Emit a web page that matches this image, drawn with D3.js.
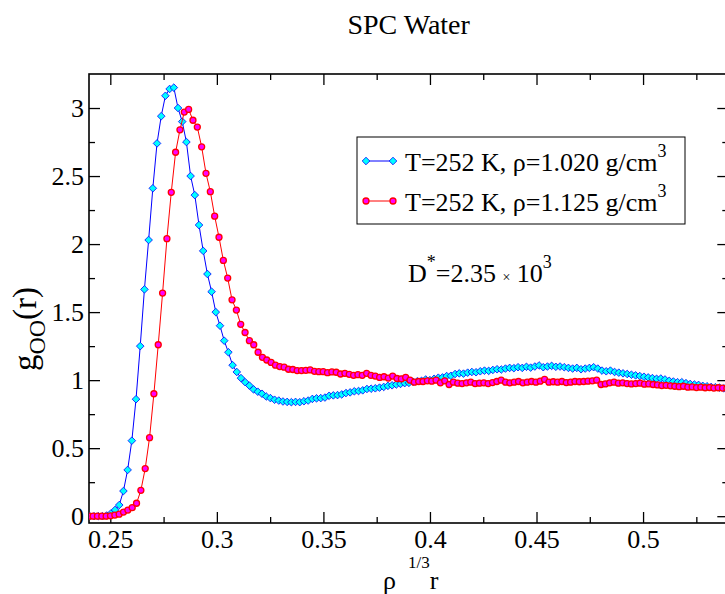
<!DOCTYPE html>
<html>
<head>
<meta charset="utf-8">
<script src="https://cdn.jsdelivr.net/npm/d3@7"></script>
<style>
  body { margin: 0; background: #fff; }
</style>
</head>
<body>
<div id="chart"></div>
<script>
// Chart values
const titleText = "SPC Water";
const seriesLabels = ["T=252 K, \u03c1=1.020 g/cm", "T=252 K, \u03c1=1.125 g/cm"];

// Both runs are sampled on a uniform r grid (x = rho^(1/3) r)
const blueStart = 0.2404;
const blueStep = 0.00197;
const blueValues = [
    0, 0, 0, 0, 0.005, 0.02, 0.046, 0.082, 0.185, 0.34,
    0.555, 0.86, 1.25, 1.667, 2.03, 2.41, 2.74, 2.94, 3.09, 3.14,
    3.15, 3.0, 2.9, 2.75, 2.5, 2.36, 2.14, 1.95, 1.78, 1.65,
    1.5, 1.4, 1.29, 1.205, 1.11, 1.06, 1.015, 0.985, 0.96, 0.932,
    0.915, 0.9, 0.88, 0.868, 0.856, 0.85, 0.843, 0.84, 0.838, 0.84,
    0.838, 0.845, 0.85, 0.862, 0.866, 0.868, 0.872, 0.885, 0.888, 0.89,
    0.895, 0.905, 0.91, 0.918, 0.92, 0.925, 0.935, 0.937, 0.94, 0.945,
    0.95, 0.958, 0.962, 0.968, 0.972, 0.978, 0.98, 0.988, 0.992, 0.995,
    1.005, 1.0, 1.01, 1.018, 1.02, 1.03, 1.032, 1.045, 1.05, 1.048,
    1.055, 1.06, 1.058, 1.065, 1.07, 1.068, 1.075, 1.08, 1.078, 1.085,
    1.09, 1.088, 1.095, 1.09, 1.098, 1.092, 1.1, 1.108, 1.095, 1.1,
    1.105, 1.098, 1.1, 1.095, 1.09, 1.085, 1.09, 1.08, 1.085, 1.09,
    1.095, 1.085, 1.07, 1.065, 1.07, 1.06, 1.055, 1.05, 1.045, 1.04,
    1.035, 1.03, 1.025, 1.02, 1.015, 1.01, 1.012, 1.005, 0.995, 0.99,
    0.985, 0.985, 0.978, 0.972, 0.968, 0.965, 0.958, 0.955, 0.95, 0.948,
    0.945, 0.94, 0.94
];

const redStart = 0.2399;
const redStep = 0.002037;
const redValues = [
    0, 0, 0, 0, 0, 0.003, 0.008, 0.015, 0.03, 0.045,
    0.063, 0.095, 0.19, 0.35, 0.577, 0.9, 1.26, 1.64, 2.04, 2.38,
    2.675, 2.84, 2.97, 2.99, 2.91, 2.86, 2.715, 2.52, 2.385, 2.205,
    2.05, 1.88, 1.75, 1.59, 1.515, 1.41, 1.35, 1.29, 1.26, 1.205,
    1.168, 1.148, 1.13, 1.11, 1.1, 1.095, 1.08, 1.078, 1.07, 1.07,
    1.072, 1.075, 1.065, 1.062, 1.062, 1.055, 1.06, 1.058, 1.045, 1.05,
    1.043, 1.035, 1.04, 1.035, 1.05, 1.035, 1.03, 1.02, 1.025, 1.015,
    1.03, 1.012, 1.01, 1.02, 1.0, 0.985, 0.99, 0.99, 0.995, 0.992,
    1.0, 0.98, 0.995, 0.968, 0.985, 0.978, 0.975, 0.98, 0.985, 0.975,
    0.978, 0.98, 0.975, 0.982, 0.99, 1.0, 0.985, 0.98, 0.985, 0.99,
    0.98, 0.985, 0.99, 0.985, 0.992, 1.005, 0.985, 0.988, 0.985, 0.99,
    0.982, 0.985, 0.99, 0.988, 0.99, 0.992, 0.995, 1.0, 0.968, 0.972,
    0.98, 0.985, 0.978, 0.98, 0.975, 0.972, 0.975, 0.978, 0.97, 0.972,
    0.968, 0.965, 0.96, 0.962, 0.958, 0.955, 0.952, 0.955, 0.948, 0.95,
    0.945, 0.948, 0.944, 0.946, 0.942, 0.944, 0.942, 0.94
];

const xDomain = [0.24, 0.54];
const yDomain = [-0.05, 3.25];
const xMajorTicks = [0.25, 0.3, 0.35, 0.4, 0.45, 0.5];
const xMinorTicks = [0.275, 0.325, 0.375, 0.425, 0.475, 0.525];
const yMajorTicks = [0, 0.5, 1, 1.5, 2, 2.5, 3];
const yMinorTicks = [0.25, 0.75, 1.25, 1.75, 2.25, 2.75];

const blueData = blueValues.map((v, i) => ({ x: blueStart + i * blueStep, y: v }));
const redData = redValues.map((v, i) => ({ x: redStart + i * redStep, y: v }));

const serif = '"Liberation Serif", "DejaVu Serif", "Times New Roman", Times, serif';

function drawChart() {
    const width = 725;
    const height = 594;
    const left = 89, top = 74, plotRight = 728.3, plotBottom = 523;
    const fontSize = 26;

    const svg = d3
        .select("#chart")
        .append("svg")
        .attr("width", width)
        .attr("height", height)
        .attr("viewBox", [0, 0, width, height])
        .attr("font-family", serif);

    const x = d3.scaleLinear().domain(xDomain).range([left, plotRight]);
    const y = d3.scaleLinear().domain(yDomain).range([plotBottom, top]);

    // Title
    svg.append("text")
        .attr("x", (left + plotRight) / 2)
        .attr("y", 34)
        .attr("text-anchor", "middle")
        .attr("font-family", serif)
        .attr("font-size", 28)
        .text(titleText);

    // Axes: ticks point inward on all four sides, labels only bottom/left
    const bottom = svg.append("g").attr("transform", `translate(0,${plotBottom})`);
    bottom.call(d3.axisBottom(x).tickValues(xMajorTicks).tickSize(-11).tickPadding(7).tickFormat(d3.format("")));
    bottom.append("g").call(d3.axisBottom(x).tickValues(xMinorTicks).tickSize(-6).tickFormat(""));

    const topAxis = svg.append("g").attr("transform", `translate(0,${top})`);
    topAxis.call(d3.axisTop(x).tickValues(xMajorTicks).tickSize(-11).tickFormat(""));
    topAxis.append("g").call(d3.axisTop(x).tickValues(xMinorTicks).tickSize(-6).tickFormat(""));

    const leftAxis = svg.append("g").attr("transform", `translate(${left},0)`);
    leftAxis.call(d3.axisLeft(y).tickValues(yMajorTicks).tickSize(-11).tickPadding(5).tickFormat(d3.format("")));
    leftAxis.append("g").call(d3.axisLeft(y).tickValues(yMinorTicks).tickSize(-6).tickFormat(""));

    const rightAxis = svg.append("g").attr("transform", `translate(${plotRight},0)`);
    rightAxis.call(d3.axisRight(y).tickValues(yMajorTicks).tickSize(-11).tickFormat(""));
    rightAxis.append("g").call(d3.axisRight(y).tickValues(yMinorTicks).tickSize(-6).tickFormat(""));

    svg.selectAll(".domain").remove();
    svg.selectAll("g").filter(function () { return this.hasAttribute("font-family"); })
        .attr("font-family", serif)
        .attr("font-size", fontSize);
    svg.selectAll(".tick line").attr("stroke", "#000").attr("stroke-width", 1.3);
    svg.selectAll(".tick text").attr("fill", "#000");

    // Frame
    svg.append("rect")
        .attr("x", left)
        .attr("y", top)
        .attr("width", plotRight - left)
        .attr("height", plotBottom - top)
        .attr("fill", "none")
        .attr("stroke", "#000")
        .attr("stroke-width", 1.6);

    // Clip the data to the plot frame
    svg.append("clipPath")
        .attr("id", "plot-clip")
        .append("rect")
        .attr("x", left)
        .attr("y", top)
        .attr("width", plotRight - left)
        .attr("height", plotBottom - top);

    const plot = svg.append("g").attr("clip-path", "url(#plot-clip)");
    const line = d3.line().x((d) => x(d.x)).y((d) => y(d.y));
    const diamond = (cx, cy, r) => `M${cx},${cy - r}L${cx + r},${cy}L${cx},${cy + r}L${cx - r},${cy}Z`;

    // Blue run (diamonds)
    plot.append("path")
        .datum(blueData)
        .attr("fill", "none")
        .attr("stroke", "#0000ff")
        .attr("stroke-width", 1)
        .attr("d", line);
    plot.append("g")
        .selectAll("path")
        .data(blueData)
        .join("path")
        .attr("d", (d) => diamond(x(d.x), y(d.y), 3.8))
        .attr("fill", "#00ffff")
        .attr("stroke", "#0000ff")
        .attr("stroke-width", 0.8);

    // Red run (circles)
    plot.append("path")
        .datum(redData)
        .attr("fill", "none")
        .attr("stroke", "#ff0000")
        .attr("stroke-width", 1)
        .attr("d", line);
    plot.append("g")
        .selectAll("circle")
        .data(redData)
        .join("circle")
        .attr("cx", (d) => x(d.x))
        .attr("cy", (d) => y(d.y))
        .attr("r", 3)
        .attr("fill", "#ff00ff")
        .attr("stroke", "#ff0000")
        .attr("stroke-width", 1.3);

    // Legend
    const legend = svg.append("g").attr("font-family", serif).attr("font-size", fontSize);
    legend.append("rect")
        .attr("x", 357)
        .attr("y", 137)
        .attr("width", 328)
        .attr("height", 87)
        .attr("fill", "#fff")
        .attr("stroke", "#000")
        .attr("stroke-width", 1);

    const rows = [
        { label: seriesLabels[0], color: "#0000ff", fill: "#00ffff", shape: "diamond", cy: 161 },
        { label: seriesLabels[1], color: "#ff0000", fill: "#ff00ff", shape: "circle", cy: 201 },
    ];
    rows.forEach((row) => {
        legend.append("line")
            .attr("x1", 366).attr("x2", 393)
            .attr("y1", row.cy).attr("y2", row.cy)
            .attr("stroke", row.color)
            .attr("stroke-width", 1);
        [366, 393].forEach((cx) => {
            if (row.shape === "diamond") {
                legend.append("path")
                    .attr("d", diamond(cx, row.cy, 3.8))
                    .attr("fill", row.fill)
                    .attr("stroke", row.color)
                    .attr("stroke-width", 0.8);
            } else {
                legend.append("circle")
                    .attr("cx", cx).attr("cy", row.cy).attr("r", 3)
                    .attr("fill", row.fill)
                    .attr("stroke", row.color)
                    .attr("stroke-width", 1.3);
            }
        });
        const t = legend.append("text")
            .attr("x", 405)
            .attr("y", row.cy + 10);
        t.append("tspan").text(row.label);
        t.append("tspan").attr("dy", -14).attr("font-size", 18).text("3");
    });

    // Diffusion annotation
    const ann = svg.append("text")
        .attr("x", 408)
        .attr("y", 282)
        .attr("font-family", serif)
        .attr("font-size", fontSize);
    ann.append("tspan").text("D");
    ann.append("tspan").attr("dy", -14).attr("font-size", 18).text("*");
    ann.append("tspan").attr("dy", 14).text("=2.35 ");
    ann.append("tspan").attr("font-size", 14).text("\u00d7");
    ann.append("tspan").text(" 10");
    ann.append("tspan").attr("dy", -14).attr("font-size", 18).text("3");

    // X axis label: rho^(1/3) r
    const xl = svg.append("text")
        .attr("x", 383)
        .attr("y", 589)
        .attr("font-family", serif)
        .attr("font-size", fontSize);
    xl.append("tspan").text("\u03c1");
    xl.append("tspan").attr("dx", 12).attr("dy", -21).attr("font-size", 17).text("1/3");
    xl.append("tspan").attr("dy", 21).text("r");

    // Y axis label: g_OO(r)
    const yl = svg.append("text")
        .attr("transform", "translate(36,329) rotate(-90)")
        .attr("text-anchor", "middle")
        .attr("font-family", serif)
        .attr("font-size", 33);
    yl.append("tspan").text("g");
    yl.append("tspan").attr("dy", 9).attr("font-size", 24).text("OO");
    yl.append("tspan").attr("dy", -9).text("(r)");
}

drawChart();
</script>
</body>
</html>
